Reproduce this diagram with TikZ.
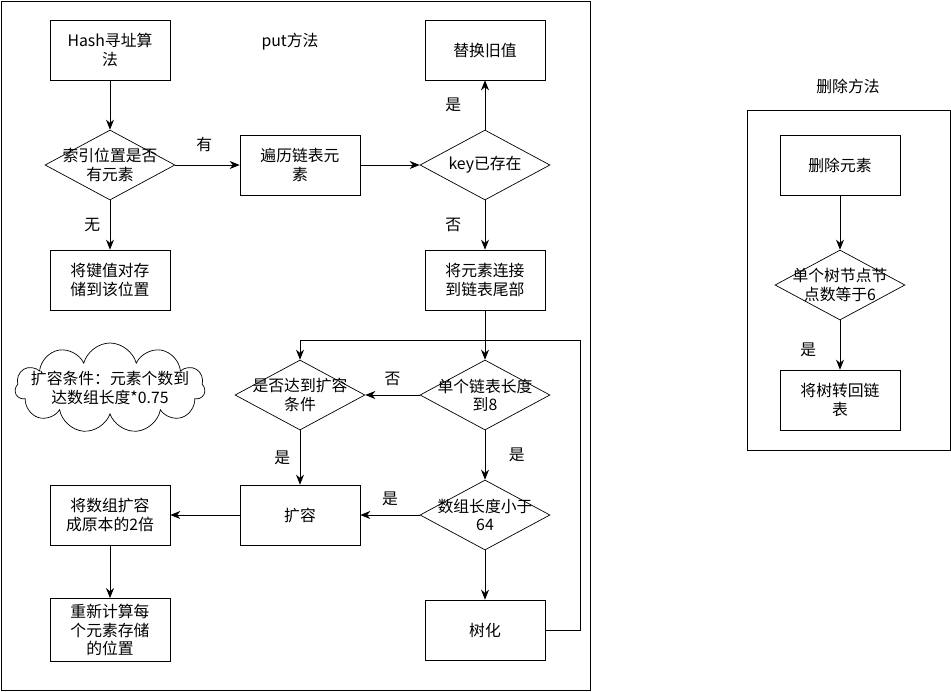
\documentclass[tikz,border=0pt]{standalone}
\usepackage{fontspec}
\setmainfont{Noto Sans CJK SC}
\usetikzlibrary{shapes.geometric,shapes.symbols,arrows.meta}
\tikzset{
  box/.style={draw,minimum width=2.4cm,minimum height=1.2cm,align=center,font=\fontsize{9}{10.5}\selectfont},
  dia/.style={draw,diamond,minimum width=2.6cm,minimum height=1.4cm,inner sep=0pt,
    label={[align=center,font=\fontsize{9}{10.5}\selectfont]center:#1}},
  txt/.style={font=\fontsize{9}{10.5}\selectfont},
  arr/.style={-{Stealth[length=2mm,width=1.6mm]}}
}
\begin{document}
\begin{tikzpicture}[x=0.02cm,y=-0.02cm]
    \useasboundingbox (0,0) rectangle (951,691);

    % frames
    \draw (1,1) rectangle (590,690);
    \draw (747,110) rectangle (950,450);

    % put
    \node[txt] (put) at (290,42) {put方法};
    \node[box] (hash) at (110,50) {Hash寻址算\\法};
    \node[dia={索引位置是否\\有元素}] (idx) at (110,165) {};
    \node[box] (store) at (110,280) {将键值对存\\储到该位置};
    \node[box] (walk) at (300,165) {遍历链表元\\素};
    \node[dia={key已存在}] (key) at (485,165) {};
    \node[box] (repl) at (485,50) {替换旧值};
    \node[box] (link) at (485,280) {将元素连接\\到链表尾部};
    \node[dia={单个链表长度\\到8}] (len8) at (485,395) {};
    \node[dia={是否达到扩容\\条件}] (cond) at (300,395) {};
    \node[draw,cloud,cloud puffs=11,aspect=2.2,minimum width=3.8cm,minimum height=1.8cm,
      label={[align=center,txt]center:扩容条件：元素个数到\\达数组长度*0.75}] (cloud) at (110,388) {};
    \node[dia={数组长度小于\\64}] (len64) at (485,515) {};
    \node[box] (grow) at (300,515) {扩容};
    \node[box] (dbl) at (110,515) {将数组扩容\\成原本的2倍};
    \node[box] (rehash) at (110,630) {重新计算每\\个元素存储\\的位置};
    \node[box] (tree) at (485,630) {树化};
    \coordinate (c1) at (580,630);
    \coordinate (c2) at (580,340);
    \coordinate (c3) at (300,340);

    \draw[arr] (hash) -- (idx);
    \draw[arr] (idx) -- node[txt,pos=0.45,above=4pt]{有} (walk);
    \draw[arr] (idx) -- node[txt,left=2pt]{无} (store);
    \draw[arr] (walk) -- (key);
    \draw[arr] (key) -- node[txt,left=10pt]{是} (repl);
    \draw[arr] (key) -- node[txt,left=10pt]{否} (link);
    \draw[arr] (link) -- (len8);
    \draw[arr] (len8) -- node[txt,above=2pt]{否} (cond);
    \draw[arr] (len8) -- node[txt,right=10pt]{是} (len64);
    \draw[arr] (cond) -- node[txt,left=2pt]{是} (grow);
    \draw[arr] (len64) -- node[txt,above=2pt]{是} (grow);
    \draw[arr] (grow) -- (dbl);
    \draw[arr] (dbl) -- (rehash);
    \draw[arr] (len64) -- (tree);
    \draw[arr] (tree.east) -- (c1) -- (c2) -- (c3) -- (cond.north);

    % delete
    \node[txt] (del) at (848,86) {删除方法};
    \node[box] (rm) at (840,165) {删除元素};
    \node[dia={单个树节点节\\点数等于6}] (six) at (840,285) {};
    \node[box] (back) at (840,400) {将树转回链\\表};
    \draw[arr] (rm) -- (six);
    \draw[arr] (six) -- node[txt,left=10pt,pos=0.6]{是} (back);
\end{tikzpicture}
\end{document}
